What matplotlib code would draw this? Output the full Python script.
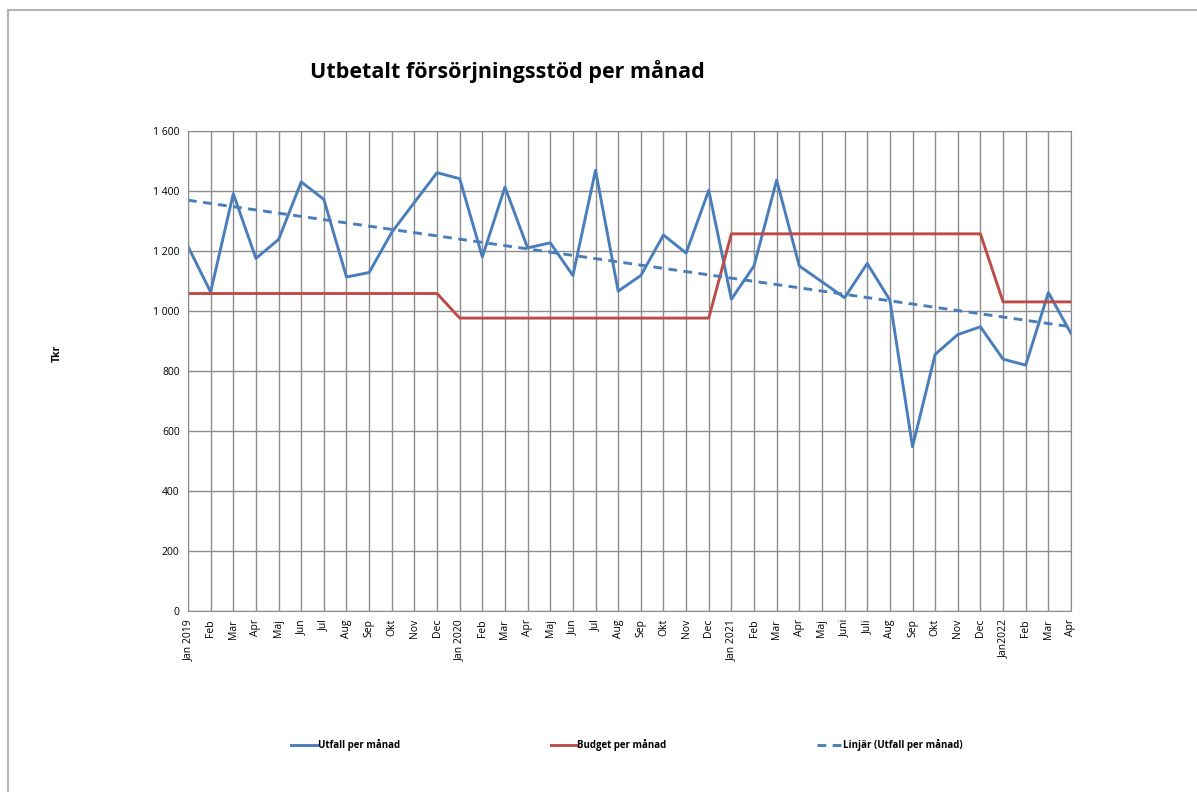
import numpy as np
import matplotlib
matplotlib.use('Agg')
import matplotlib.pyplot as plt
from matplotlib.lines import Line2D

matplotlib.rcParams['font.family'] = ['Open Sans', 'DejaVu Sans']

# månader jan 2019 - apr 2022
months = ['Jan 2019', 'Feb', 'Mar', 'Apr', 'Maj', 'Jun', 'Jul', 'Aug', 'Sep', 'Okt', 'Nov', 'Dec',
          'Jan 2020', 'Feb', 'Mar', 'Apr', 'Maj', 'Jun', 'Jul', 'Aug', 'Sep', 'Okt', 'Nov', 'Dec',
          'Jan 2021', 'Feb', 'Mar', 'Apr', 'Maj', 'Juni', 'Juli', 'Aug', 'Sep', 'Okt', 'Nov', 'Dec',
          'Jan2022', 'Feb', 'Mar', 'Apr']

utfall = [1215, 1063, 1391, 1175, 1238, 1430, 1372, 1113, 1128, 1262, 1362, 1461,
          1441, 1180, 1413, 1210, 1227, 1118, 1469, 1066, 1118, 1253, 1193, 1402,
          1039, 1150, 1436, 1150, 1097, 1044, 1158, 1036, 547, 855, 921, 947,
          839, 819, 1061, 925]

budget = [1058] * 12 + [976] * 12 + [1257] * 12 + [1030] * 4

x = np.arange(len(months))
k, m = np.polyfit(x, utfall, 1)
trend = k * x + m

fig = plt.figure(figsize=(11.97, 7.92), dpi=100)
ax = fig.add_axes([188/1197, 1 - 610.7/792, (1071-188)/1197, (610.7-131)/792])

ax.plot(x, utfall, color='#4a7ebb', lw=2.1, label='Utfall per månad')
ax.plot(x, budget, color='#be4b48', lw=2.1, label='Budget per månad')
ax.plot(x, trend, color='#4a7ebb', lw=2.1, ls=(0, (3, 2.2)), label='Linjär (Utfall per månad)')

ax.set_xlim(0, len(months) - 1)
ax.set_ylim(0, 1600)
ax.set_yticks(np.arange(0, 1601, 200))
ax.set_yticklabels([f'{v:,}'.replace(',', ' ') for v in range(0, 1601, 200)], fontsize=7.5)
ax.set_xticks(x)
ax.set_xticklabels(months, rotation=90, fontsize=7.5)
ax.tick_params(length=0, pad=6)
ax.grid(True, color='#8c8c8c', lw=1)
ax.set_axisbelow(True)
for s in ax.spines.values():
    s.set_color('#8c8c8c')

fig.text(57/1197, 1 - 353/792, 'Tkr', rotation=90, fontsize=7.5, fontweight='bold',
         ha='center', va='center')
fig.text(310/1197, 1 - 72/792, 'Utbetalt försörjningsstöd per månad', fontsize=15.5,
         fontweight='bold', ha='left', va='center')

fig.legend(loc='center', bbox_to_anchor=(627/1197, 1 - 745/792), ncol=3, frameon=False,
           handlelength=2.6, handletextpad=0.1, columnspacing=15.5,
           prop={'weight': 'bold', 'size': 7})

# ram runt diagrammet
fig.add_artist(Line2D([8/1197, 8/1197], [0, 1 - 10/792], color='#b4b4b4', lw=1.5,
                      transform=fig.transFigure))
fig.add_artist(Line2D([8/1197, 1], [1 - 10/792, 1 - 10/792], color='#b4b4b4', lw=1.5,
                      transform=fig.transFigure))

plt.savefig('out.png', dpi=100)
plt.close()
